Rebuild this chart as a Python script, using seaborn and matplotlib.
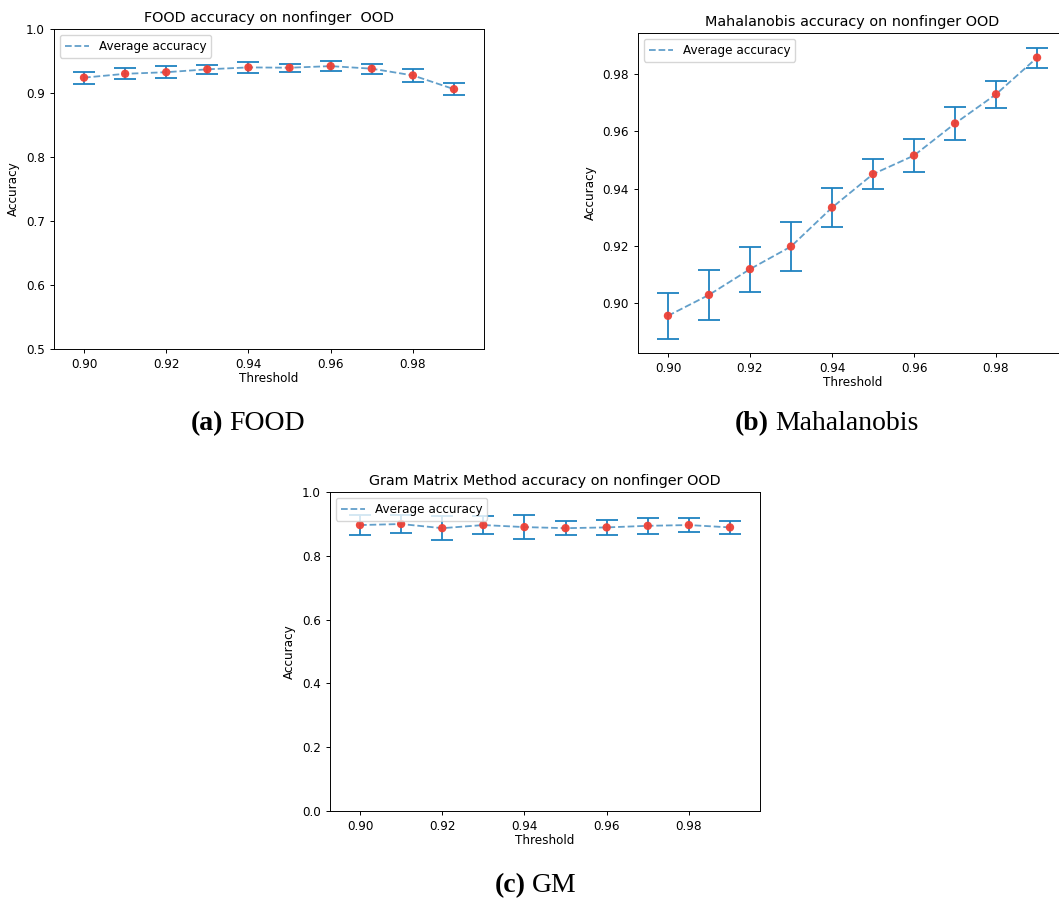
import matplotlib
matplotlib.use("Agg")
import matplotlib.pyplot as plt
import seaborn as sns

# Thresholds swept for each OOD detector
thresholds = [0.90, 0.91, 0.92, 0.93, 0.94, 0.95, 0.96, 0.97, 0.98, 0.99]

# FOOD: mean accuracy and spread per threshold
food_mean = [0.924, 0.930, 0.9325, 0.937, 0.940, 0.9395, 0.942, 0.938, 0.9275, 0.906]
food_err = [0.0095, 0.0086, 0.0096, 0.0070, 0.0080, 0.0065, 0.0080, 0.0080, 0.0096, 0.0090]

# Mahalanobis: mean accuracy and spread per threshold
maha_mean = [0.8956, 0.9029, 0.9119, 0.9198, 0.9334, 0.9451, 0.9516, 0.9628, 0.9730, 0.9858]
maha_err = [0.0080, 0.0087, 0.0079, 0.0086, 0.0069, 0.0053, 0.0059, 0.0058, 0.0048, 0.0035]

# Gram matrix method: mean accuracy and spread per threshold
gm_mean = [0.8964, 0.8996, 0.8866, 0.8964, 0.8900, 0.8866, 0.8890, 0.8940, 0.8964, 0.8890]
gm_err = [0.030, 0.027, 0.038, 0.027, 0.038, 0.021, 0.023, 0.025, 0.022, 0.020]

S = 0.867  # overall scale of the panels
plt.rcParams.update({
    "font.family": "DejaVu Sans",
    "font.size": 10 * S,
    "axes.titlesize": 12 * S,
    "axes.labelsize": 10 * S,
    "xtick.labelsize": 10 * S,
    "ytick.labelsize": 10 * S,
    "legend.fontsize": 10 * S,
    "axes.linewidth": 0.8 * S,
    "xtick.major.width": 0.8 * S,
    "ytick.major.width": 0.8 * S,
    "xtick.major.size": 3.5 * S,
    "ytick.major.size": 3.5 * S,
    "axes.titlepad": 6 * S,
})

W, H = 1059, 905
fig = plt.figure(figsize=(W / 100, H / 100), dpi=100)


def box(left, top, right, bottom):
    return [left / W, 1 - bottom / H, (right - left) / W, (bottom - top) / H]


BAR = "#1f82c0"
LINE = "#1f77b4"
DOT = "#ee4035"


def panel(rect, mean, err, title, ylim, yticks, fmt):
    ax = fig.add_axes(rect)
    ax.errorbar(thresholds, mean, yerr=err, fmt="none", ecolor=BAR,
                elinewidth=1.5 * S, capsize=9 * S, capthick=1.5 * S, zorder=2)
    sns.lineplot(x=thresholds, y=mean, ax=ax, color=LINE, alpha=0.7,
                 linestyle="--", linewidth=1.5 * S, label="Average accuracy",
                 zorder=3)
    sns.scatterplot(x=thresholds, y=mean, ax=ax, color=DOT, s=36, alpha=0.95,
                    edgecolor="none", linewidth=0, zorder=4)
    ax.set_xlim(0.8927, 0.9973)
    ax.set_xticks([0.90, 0.92, 0.94, 0.96, 0.98])
    ax.set_xticklabels([f"{t:.2f}" for t in [0.90, 0.92, 0.94, 0.96, 0.98]])
    ax.set_ylim(*ylim)
    ax.set_yticks(yticks)
    ax.set_yticklabels([fmt.format(v) for v in yticks])
    ax.set_xlabel("Threshold", labelpad=1)
    ax.set_ylabel("Accuracy")
    ax.set_title(title)
    ax.legend(loc="upper left")
    return ax


panel(box(54, 29, 484, 349), food_mean, food_err,
      "FOOD accuracy on nonfinger  OOD", (0.5, 1.0),
      [0.5, 0.6, 0.7, 0.8, 0.9, 1.0], "{:.1f}")
panel(box(638, 33, 1067, 353), maha_mean, maha_err,
      "Mahalanobis accuracy on nonfinger OOD", (0.8826, 0.9944),
      [0.90, 0.92, 0.94, 0.96, 0.98], "{:.2f}")
panel(box(330, 492, 760, 811), gm_mean, gm_err,
      "Gram Matrix Method accuracy on nonfinger OOD", (0.0, 1.0),
      [0.0, 0.2, 0.4, 0.6, 0.8, 1.0], "{:.1f}")

# Sub-figure captions: bold letter followed by the method name
SERIF = ["Liberation Serif", "DejaVu Serif"]


def caption(split_x, baseline_y, letter, name):
    y = 1 - baseline_y / H
    fig.text(split_x / W - 2 / W, y, letter, ha="right", va="baseline",
             fontsize=20, fontweight="bold", family=SERIF)
    fig.text(split_x / W + 4 / W, y, name, ha="left", va="baseline",
             fontsize=20, family=SERIF)


caption(225, 430, "(a)", "FOOD")
caption(771, 430, "(b)", "Mahalanobis")
caption(528, 892, "(c)", "GM")

fig.savefig("out.png", dpi=100)
